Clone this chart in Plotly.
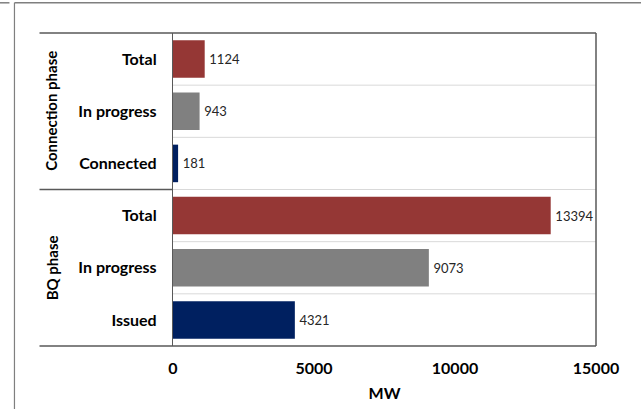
import plotly.graph_objects as go

# ---- data ----
groups = ["Connection phase", "Connection phase", "Connection phase",
          "BQ phase", "BQ phase", "BQ phase"]
categories = ["Total", "In progress", "Connected", "Total", "In progress", "Issued"]
values = [1124, 943, 181, 13394, 9073, 4321]
colors = ["#953735", "#808080", "#002060", "#953735", "#808080", "#002060"]
x_ticks = [0, 5000, 10000, 15000]
group_names = ["Connection phase", "BQ phase"]

FONT = "Lato, 'Open Sans', Arial, sans-serif"
LINE = "#595959"

pos = list(range(len(categories)))

fig = go.Figure()
fig.add_trace(go.Bar(
    x=values, y=pos, orientation="h", width=0.72,
    marker=dict(color=colors, line=dict(width=0)),
    text=["\u2009" + str(v) for v in values], textposition="outside",
    textfont=dict(family=FONT, size=13, color="#262626"),
    cliponaxis=False, hoverinfo="skip",
))

shapes = []
# category boundary gridlines
for i in range(len(categories) - 1):
    shapes.append(dict(type="line", xref="paper", yref="y", x0=0, x1=1,
                       y0=i + 0.5, y1=i + 0.5, line=dict(color="#d9d9d9", width=1)))
# group separator on the label side
for i in range(len(categories) - 1):
    if groups[i] != groups[i + 1]:
        shapes.append(dict(type="line", xref="paper", yref="y", x0=-0.3156, x1=0,
                           y0=i + 0.5, y1=i + 0.5, line=dict(color=LINE, width=1.3)))
# top & bottom borders extending across the labels
for yy in (0, 1):
    shapes.append(dict(type="line", xref="paper", yref="paper", x0=-0.3156, x1=1,
                       y0=yy, y1=yy, line=dict(color=LINE, width=1.5)))
# right border
shapes.append(dict(type="line", xref="paper", yref="paper", x0=1, x1=1,
                   y0=0, y1=1, line=dict(color=LINE, width=1.5)))
# outer image frame lines
TOP = 1.0965
shapes.append(dict(type="line", xref="paper", yref="paper", x0=-0.3748, x1=1.11,
                   y0=TOP, y1=TOP, line=dict(color="#7f7f7f", width=1.5)))
shapes.append(dict(type="line", xref="paper", yref="paper", x0=-0.3748, x1=-0.3748,
                   y0=-0.21, y1=TOP, line=dict(color="#7f7f7f", width=1.2)))
shapes.append(dict(type="line", xref="paper", yref="paper", x0=-0.415, x1=-0.3866,
                   y0=TOP, y1=TOP, line=dict(color="#7f7f7f", width=1.5)))

annotations = []
for g in group_names:
    idx = [i for i, gg in enumerate(groups) if gg == g]
    annotations.append(dict(
        text="<b>%s</b>" % g, xref="paper", yref="y", x=-0.287,
        y=sum(idx) / len(idx), textangle=-90, showarrow=False,
        xanchor="center", yanchor="middle",
        font=dict(family=FONT, size=15, color="#000000"),
    ))

fig.update_layout(
    width=641, height=409,
    margin=dict(l=173, r=45, t=33, b=63),
    paper_bgcolor="white", plot_bgcolor="white",
    showlegend=False,
    shapes=shapes, annotations=annotations,
    xaxis=dict(
        range=[0, 15000], tickvals=x_ticks, ticktext=[str(t) for t in x_ticks],
        showgrid=False, zeroline=False, showline=False, ticks="",
        tickfont=dict(family=FONT, size=16, color="#000000", weight="bold"),
        ticklabelstandoff=11, automargin=False,
        title=dict(text="<b>MW</b>", font=dict(family=FONT, size=16, color="#000000"),
                   standoff=11),
    ),
    yaxis=dict(
        range=[len(categories) - 0.5, -0.5],
        tickvals=pos, ticktext=categories,
        showgrid=False, zeroline=False, showline=True, linecolor=LINE, linewidth=1.3,
        ticks="", ticklabelstandoff=12, automargin=False,
        tickfont=dict(family=FONT, size=16, color="#000000", weight="bold"),
    ),
)

fig.write_html("out.html", config={"displayModeBar": False},
               post_script="document.body.style.margin='0';")
